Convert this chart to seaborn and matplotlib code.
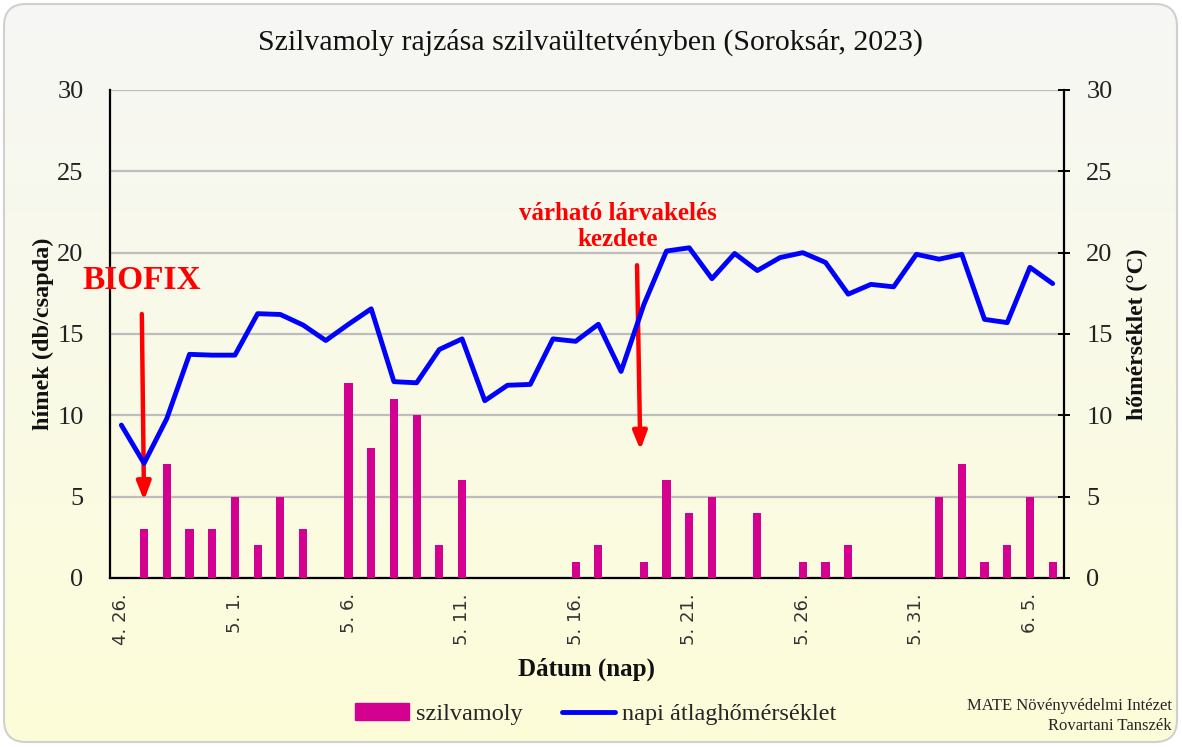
import numpy as np
import pandas as pd
import matplotlib
matplotlib.use("Agg")
import matplotlib.pyplot as plt
import seaborn as sns
from matplotlib.patches import FancyBboxPatch, Patch
from matplotlib.lines import Line2D

# ---------------- data ----------------
dates = ["4. 26.", "4. 27.", "4. 28.", "4. 29.", "4. 30.",
         "5. 1.", "5. 2.", "5. 3.", "5. 4.", "5. 5.", "5. 6.", "5. 7.", "5. 8.", "5. 9.", "5. 10.",
         "5. 11.", "5. 12.", "5. 13.", "5. 14.", "5. 15.", "5. 16.", "5. 17.", "5. 18.", "5. 19.",
         "5. 20.", "5. 21.", "5. 22.", "5. 23.", "5. 24.", "5. 25.", "5. 26.", "5. 27.", "5. 28.",
         "5. 29.", "5. 30.", "5. 31.", "6. 1.", "6. 2.", "6. 3.", "6. 4.", "6. 5.", "6. 6."]
moths = [0, 3, 7, 3, 3,
         5, 2, 5, 3, 0, 12, 8, 11, 10, 2,
         6, 0, 0, 0, 0, 1, 2, 0, 1,
         6, 4, 5, 0, 4, 0, 1, 1, 2,
         0, 0, 0, 5, 7, 1, 2, 5, 1]
temps = [9.4, 7.05, 9.8, 13.75, 13.7,
         13.7, 16.25, 16.2, 15.55, 14.6, 15.6, 16.55, 12.07, 12.0, 14.05,
         14.7, 10.9, 11.85, 11.9, 14.7, 14.55, 15.6, 12.7, 16.8,
         20.1, 20.3, 18.4, 19.95, 18.9, 19.7, 20.0, 19.4, 17.45,
         18.05, 17.9, 19.9, 19.6, 19.9, 15.9, 15.7, 19.1, 18.1]
label_dates = ["4. 26.", "5. 1.", "5. 6.", "5. 11.", "5. 16.", "5. 21.", "5. 26.", "5. 31.", "6. 5."]
yticks = [0, 5, 10, 15, 20, 25, 30]

df = pd.DataFrame({"datum": dates, "szilvamoly": moths, "homerseklet": temps})
df["idx"] = np.arange(len(df))

# ---------------- style ----------------
sns.set_theme(style="white")
plt.rcParams["font.family"] = ["Liberation Serif", "DejaVu Serif"]

W, H, DPI = 1182, 747, 100
fig = plt.figure(figsize=(W / DPI, H / DPI), dpi=DPI)
fig.patch.set_facecolor("white")

# background gradient with rounded border
bg = fig.add_axes([0, 0, 1, 1], zorder=-10)
bg.set_xlim(0, W)
bg.set_ylim(H, 0)
bg.axis("off")
grad = np.linspace(0, 1, 256).reshape(-1, 1)
top = np.array([0.965, 0.968, 0.960])
bot = np.array([0.992, 0.992, 0.850])
img = top[None, None, :] * (1 - grad[:, :, None]) + bot[None, None, :] * grad[:, :, None]
box = FancyBboxPatch((4, 4), W - 9, H - 9, boxstyle="round,pad=0,rounding_size=22",
                     facecolor="none", edgecolor="#d0d0d0", linewidth=1.5)
bg.add_patch(box)
im = bg.imshow(img, extent=[4, W - 5, H - 5, 4], aspect="auto", zorder=0)
im.set_clip_path(box)

# main axes (pixel coords: left 110, right 1063, top 90, bottom 578)
L, R, T, B = 110, 1064, 90, 578
ax = fig.add_axes([L / W, 1 - B / H, (R - L) / W, (B - T) / H])
ax.set_facecolor("none")

sns.barplot(data=df, x="idx", y="szilvamoly", color="#d4008f", width=0.36,
            saturation=1, ax=ax, zorder=3, linewidth=0, edgecolor="none")
ax.set_xlim(-0.5, len(df) - 0.5)
ax.set_ylim(0, 30)
ax.set_yticks(yticks)
ax.set_yticklabels([str(v) for v in yticks], fontsize=19, color="#222222")
ax.grid(axis="y", color="#bdbdbd", linewidth=1.6, zorder=0)
ax.set_axisbelow(True)
ax.tick_params(axis="y", length=0, pad=19)

label_pos = [dates.index(d) for d in label_dates]
ax.set_xticks(label_pos)
ax.set_xticklabels(label_dates, rotation=90, fontsize=13, family=["DejaVu Sans"],
                   color="#333333")
ax.set_xticks(np.arange(-0.5, len(df), 1), minor=True)
ax.tick_params(axis="x", which="minor", length=5, width=1.3, color="black", direction="out")
ax.tick_params(axis="x", which="major", length=0, pad=11)

for s in ["top", "right"]:
    ax.spines[s].set_visible(False)
for s in ["left", "bottom"]:
    ax.spines[s].set_color("black")
    ax.spines[s].set_linewidth(1.6)

ax.set_xlabel("Dátum (nap)", fontsize=18, fontweight="bold", labelpad=9, color="#111111")
ax.set_ylabel("hímek (db/csapda)", fontsize=17.5, fontweight="bold", labelpad=2, color="#111111")

# temperature line on twin axis
ax2 = ax.twinx()
sns.lineplot(data=df, x="idx", y="homerseklet", color="#0000ff", linewidth=3.5,
             ax=ax2, zorder=4, legend=False)
ax2.set_ylim(0, 30)
ax2.set_xlim(-0.5, len(df) - 0.5)
ax2.set_yticks(yticks)
ax2.set_yticklabels([str(v) for v in yticks], fontsize=19, color="#222222")
ax2.tick_params(axis="y", length=8, width=1.4, direction="inout", pad=12, color="black")
ax2.grid(False)
for s in ["top", "left", "bottom"]:
    ax2.spines[s].set_visible(False)
ax2.spines["right"].set_color("black")
ax2.spines["right"].set_linewidth(1.6)
ax2.set_ylabel("hőmérséklet (°C)", fontsize=17, fontweight="bold", labelpad=10, color="#111111")
ax2.set_xlabel("")

# annotations
biofix_i = dates.index("4. 27.")
ax2.text(biofix_i - 0.1, 18.3, "BIOFIX", color="#ff0000", fontsize=24, fontweight="bold",
         ha="center", va="center", clip_on=False)
ax2.annotate("", xy=(biofix_i, 4.6), xytext=(biofix_i - 0.1, 16.4),
             arrowprops=dict(arrowstyle="-|>,head_length=0.9,head_width=0.35",
                             color="#ff0000", lw=3.2))
larva_i = dates.index("5. 19.")
ax2.text(larva_i - 1.15, 21.6, "várható lárvakelés\nkezdete", color="#ff0000", fontsize=18,
         fontweight="bold", ha="center", va="center", linespacing=1.15)
ax2.annotate("", xy=(larva_i - 0.15, 7.7), xytext=(larva_i - 0.3, 19.4),
             arrowprops=dict(arrowstyle="-|>,head_length=0.9,head_width=0.35",
                             color="#ff0000", lw=3.2))

# title
fig.text(0.5, 1 - 42 / H, "Szilvamoly rajzása szilvaültetvényben (Soroksár, 2023)",
         ha="center", va="center", fontsize=21.5, color="#111111")

# legend
handles = [Patch(facecolor="#d4008f", edgecolor="#d4008f"),
           Line2D([0], [0], color="#0000ff", linewidth=3.5)]
fig.legend(handles, ["szilvamoly", "napi átlaghőmérséklet"], loc="center",
           bbox_to_anchor=(596 / W, 1 - 714 / H), ncol=2, frameon=False, fontsize=17.5,
           handlelength=2.2, handletextpad=0.3, columnspacing=1.6)

fig.text(1172 / W, 1 - 716 / H, "MATE Növényvédelmi Intézet\nRovartani Tanszék",
         ha="right", va="center", fontsize=12, linespacing=1.3)

fig.savefig("out.png", dpi=DPI)
